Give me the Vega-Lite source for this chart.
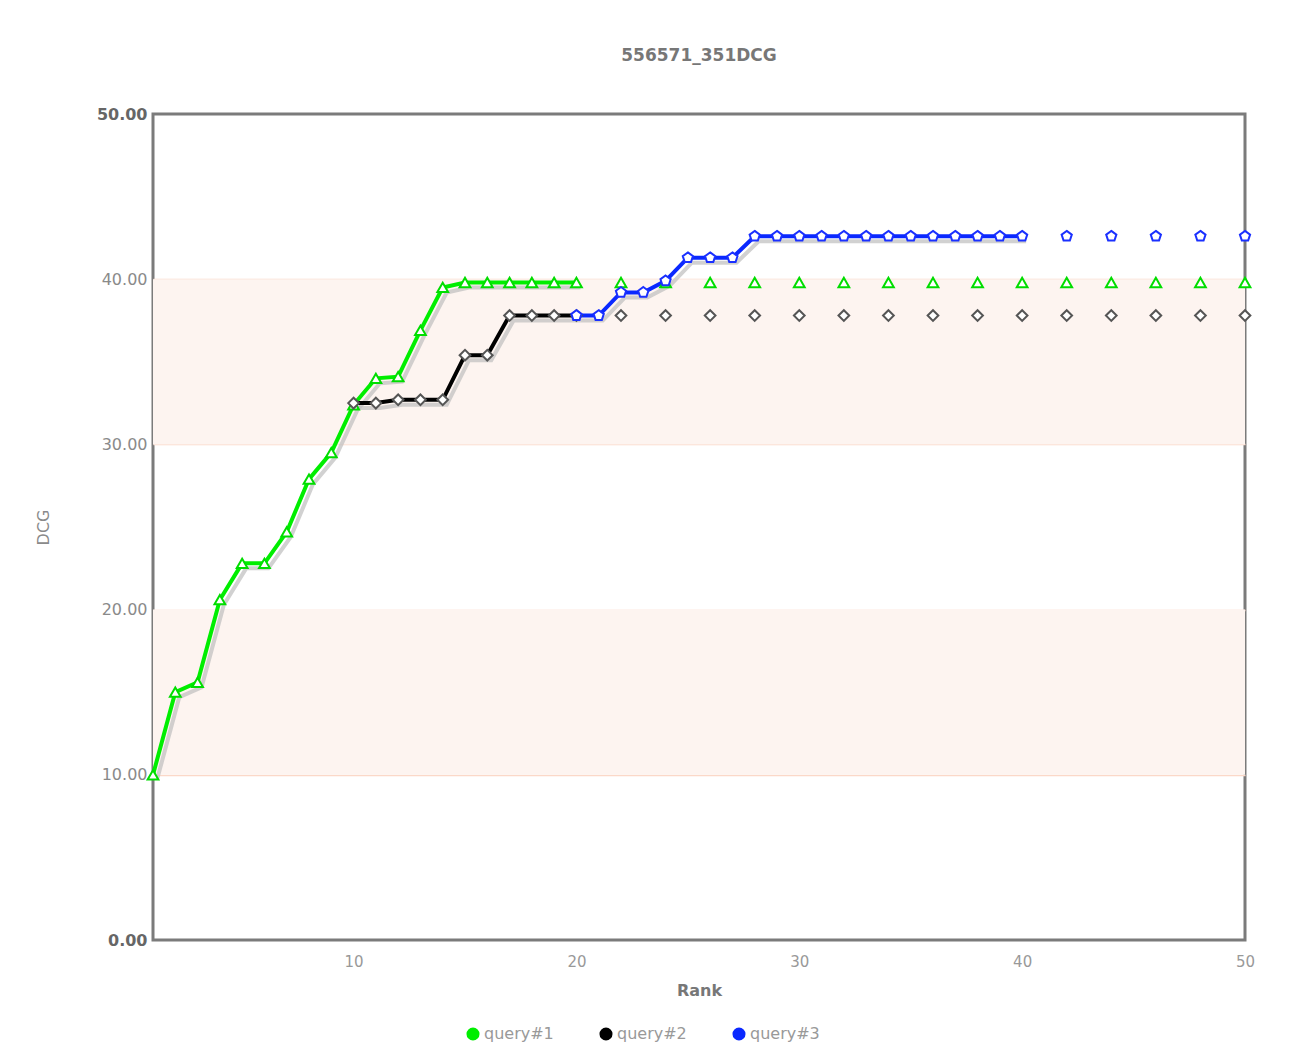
{
  "$schema": "https://vega.github.io/schema/vega-lite/v6.json",
  "autosize": {"type": "none"},
  "width": 1092,
  "height": 826,
  "padding": {"left": 153, "top": 114, "right": 44, "bottom": 124},
  "background": "white",
  "config": {
    "font": "DejaVu Sans",
    "view": {"stroke": "#7b7b7b", "strokeWidth": 3}
  },
  "title": {
    "text": "556571_351DCG",
    "fontSize": 17,
    "fontWeight": "bold",
    "color": "#777777",
    "frame": "group",
    "anchor": "middle",
    "offset": 41
  },
  "resolve": {"legend": {"color": "independent", "shape": "independent", "stroke": "independent"}},
  "datasets": {
    "bands": [{"lo": 10, "hi": 20}, {"lo": 30, "hi": 40}],
    "dcg": [
      {"query": "query#1", "rank": 1, "dcg": 10.0, "kind": "line"},
      {"query": "query#1", "rank": 2, "dcg": 15.0, "kind": "line"},
      {"query": "query#1", "rank": 3, "dcg": 15.6, "kind": "line"},
      {"query": "query#1", "rank": 4, "dcg": 20.6, "kind": "line"},
      {"query": "query#1", "rank": 5, "dcg": 22.8, "kind": "line"},
      {"query": "query#1", "rank": 6, "dcg": 22.8, "kind": "line"},
      {"query": "query#1", "rank": 7, "dcg": 24.7, "kind": "line"},
      {"query": "query#1", "rank": 8, "dcg": 27.9, "kind": "line"},
      {"query": "query#1", "rank": 9, "dcg": 29.5, "kind": "line"},
      {"query": "query#1", "rank": 10, "dcg": 32.4, "kind": "line"},
      {"query": "query#1", "rank": 11, "dcg": 34.0, "kind": "line"},
      {"query": "query#1", "rank": 12, "dcg": 34.1, "kind": "line"},
      {"query": "query#1", "rank": 13, "dcg": 36.9, "kind": "line"},
      {"query": "query#1", "rank": 14, "dcg": 39.5, "kind": "line"},
      {"query": "query#1", "rank": 15, "dcg": 39.8, "kind": "line"},
      {"query": "query#1", "rank": 16, "dcg": 39.8, "kind": "line"},
      {"query": "query#1", "rank": 17, "dcg": 39.8, "kind": "line"},
      {"query": "query#1", "rank": 18, "dcg": 39.8, "kind": "line"},
      {"query": "query#1", "rank": 19, "dcg": 39.8, "kind": "line"},
      {"query": "query#1", "rank": 20, "dcg": 39.8, "kind": "line"},
      {"query": "query#1", "rank": 22, "dcg": 39.8, "kind": "dot"},
      {"query": "query#1", "rank": 24, "dcg": 39.8, "kind": "dot"},
      {"query": "query#1", "rank": 26, "dcg": 39.8, "kind": "dot"},
      {"query": "query#1", "rank": 28, "dcg": 39.8, "kind": "dot"},
      {"query": "query#1", "rank": 30, "dcg": 39.8, "kind": "dot"},
      {"query": "query#1", "rank": 32, "dcg": 39.8, "kind": "dot"},
      {"query": "query#1", "rank": 34, "dcg": 39.8, "kind": "dot"},
      {"query": "query#1", "rank": 36, "dcg": 39.8, "kind": "dot"},
      {"query": "query#1", "rank": 38, "dcg": 39.8, "kind": "dot"},
      {"query": "query#1", "rank": 40, "dcg": 39.8, "kind": "dot"},
      {"query": "query#1", "rank": 42, "dcg": 39.8, "kind": "dot"},
      {"query": "query#1", "rank": 44, "dcg": 39.8, "kind": "dot"},
      {"query": "query#1", "rank": 46, "dcg": 39.8, "kind": "dot"},
      {"query": "query#1", "rank": 48, "dcg": 39.8, "kind": "dot"},
      {"query": "query#1", "rank": 50, "dcg": 39.8, "kind": "dot"},
      {"query": "query#2", "rank": 10, "dcg": 32.5, "kind": "line"},
      {"query": "query#2", "rank": 11, "dcg": 32.5, "kind": "line"},
      {"query": "query#2", "rank": 12, "dcg": 32.7, "kind": "line"},
      {"query": "query#2", "rank": 13, "dcg": 32.7, "kind": "line"},
      {"query": "query#2", "rank": 14, "dcg": 32.7, "kind": "line"},
      {"query": "query#2", "rank": 15, "dcg": 35.4, "kind": "line"},
      {"query": "query#2", "rank": 16, "dcg": 35.4, "kind": "line"},
      {"query": "query#2", "rank": 17, "dcg": 37.8, "kind": "line"},
      {"query": "query#2", "rank": 18, "dcg": 37.8, "kind": "line"},
      {"query": "query#2", "rank": 19, "dcg": 37.8, "kind": "line"},
      {"query": "query#2", "rank": 20, "dcg": 37.8, "kind": "line"},
      {"query": "query#2", "rank": 22, "dcg": 37.8, "kind": "dot"},
      {"query": "query#2", "rank": 24, "dcg": 37.8, "kind": "dot"},
      {"query": "query#2", "rank": 26, "dcg": 37.8, "kind": "dot"},
      {"query": "query#2", "rank": 28, "dcg": 37.8, "kind": "dot"},
      {"query": "query#2", "rank": 30, "dcg": 37.8, "kind": "dot"},
      {"query": "query#2", "rank": 32, "dcg": 37.8, "kind": "dot"},
      {"query": "query#2", "rank": 34, "dcg": 37.8, "kind": "dot"},
      {"query": "query#2", "rank": 36, "dcg": 37.8, "kind": "dot"},
      {"query": "query#2", "rank": 38, "dcg": 37.8, "kind": "dot"},
      {"query": "query#2", "rank": 40, "dcg": 37.8, "kind": "dot"},
      {"query": "query#2", "rank": 42, "dcg": 37.8, "kind": "dot"},
      {"query": "query#2", "rank": 44, "dcg": 37.8, "kind": "dot"},
      {"query": "query#2", "rank": 46, "dcg": 37.8, "kind": "dot"},
      {"query": "query#2", "rank": 48, "dcg": 37.8, "kind": "dot"},
      {"query": "query#2", "rank": 50, "dcg": 37.8, "kind": "dot"},
      {"query": "query#3", "rank": 20, "dcg": 37.8, "kind": "line"},
      {"query": "query#3", "rank": 21, "dcg": 37.8, "kind": "line"},
      {"query": "query#3", "rank": 22, "dcg": 39.2, "kind": "line"},
      {"query": "query#3", "rank": 23, "dcg": 39.2, "kind": "line"},
      {"query": "query#3", "rank": 24, "dcg": 39.9, "kind": "line"},
      {"query": "query#3", "rank": 25, "dcg": 41.3, "kind": "line"},
      {"query": "query#3", "rank": 26, "dcg": 41.3, "kind": "line"},
      {"query": "query#3", "rank": 27, "dcg": 41.3, "kind": "line"},
      {"query": "query#3", "rank": 28, "dcg": 42.6, "kind": "line"},
      {"query": "query#3", "rank": 29, "dcg": 42.6, "kind": "line"},
      {"query": "query#3", "rank": 30, "dcg": 42.6, "kind": "line"},
      {"query": "query#3", "rank": 31, "dcg": 42.6, "kind": "line"},
      {"query": "query#3", "rank": 32, "dcg": 42.6, "kind": "line"},
      {"query": "query#3", "rank": 33, "dcg": 42.6, "kind": "line"},
      {"query": "query#3", "rank": 34, "dcg": 42.6, "kind": "line"},
      {"query": "query#3", "rank": 35, "dcg": 42.6, "kind": "line"},
      {"query": "query#3", "rank": 36, "dcg": 42.6, "kind": "line"},
      {"query": "query#3", "rank": 37, "dcg": 42.6, "kind": "line"},
      {"query": "query#3", "rank": 38, "dcg": 42.6, "kind": "line"},
      {"query": "query#3", "rank": 39, "dcg": 42.6, "kind": "line"},
      {"query": "query#3", "rank": 40, "dcg": 42.6, "kind": "line"},
      {"query": "query#3", "rank": 42, "dcg": 42.6, "kind": "dot"},
      {"query": "query#3", "rank": 44, "dcg": 42.6, "kind": "dot"},
      {"query": "query#3", "rank": 46, "dcg": 42.6, "kind": "dot"},
      {"query": "query#3", "rank": 48, "dcg": 42.6, "kind": "dot"},
      {"query": "query#3", "rank": 50, "dcg": 42.6, "kind": "dot"}
    ]
  },
  "layer": [
    {
      "data": {"name": "bands"},
      "mark": {"type": "rect", "fill": "#fdf4f0"},
      "encoding": {
        "y": {
          "field": "lo", "type": "quantitative",
          "scale": {"domain": [0, 50], "nice": false},
          "axis": {
            "title": "DCG",
            "values": [0, 10, 20, 30, 40, 50],
            "format": ".2f",
            "ticks": false,
            "domain": false,
            "labelPadding": 6,
            "labelFontSize": 16,
            "labelColor": {"condition": {"test": "datum.value == 0 || datum.value == 50", "value": "#666666"}, "value": "#8a8a8a"},
            "labelFontWeight": {"condition": {"test": "datum.value == 0 || datum.value == 50", "value": "bold"}, "value": "normal"},
            "grid": true,
            "gridColor": {"condition": {"test": "datum.value == 0 || datum.value == 50", "value": "transparent"}, "value": "#fbd8c8"},
            "gridWidth": 1.5,
            "titleFontSize": 16,
            "titleFontWeight": "normal",
            "titleColor": "#8a8a8a",
            "titleAngle": -90,
            "titleAlign": "center",
            "titleBaseline": "middle",
            "titleX": -110,
            "titleY": 413
          }
        },
        "y2": {"field": "hi"}
      }
    },
    {
      "data": {"name": "dcg"},
      "transform": [{"filter": "datum.kind == 'line'"}],
      "mark": {"type": "line", "strokeWidth": 4, "color": "#bdbdbd", "opacity": 0.7},
      "encoding": {
        "x": {"field": "rank", "type": "quantitative"},
        "y": {"field": "dcg", "type": "quantitative"},
        "detail": {"field": "query"},
        "xOffset": {"value": 4},
        "yOffset": {"value": 5}
      }
    },
    {
      "data": {"name": "dcg"},
      "transform": [{"filter": "datum.kind == 'line'"}],
      "mark": {"type": "line", "strokeWidth": 4},
      "encoding": {
        "x": {
          "field": "rank", "type": "quantitative",
          "scale": {"domain": [1, 50], "nice": false, "zero": false},
          "axis": {
            "title": "Rank",
            "values": [10, 20, 30, 40, 50],
            "ticks": false,
            "domain": false,
            "grid": false,
            "labelFlush": false,
            "labelPadding": 14,
            "labelFontSize": 15,
            "labelColor": "#999999",
            "labelBaseline": "top",
            "titleFontSize": 16,
            "titleFontWeight": "bold",
            "titleColor": "#777777",
            "titleBaseline": "middle",
            "titleY": 50
          }
        },
        "y": {"field": "dcg", "type": "quantitative"},
        "color": {
          "field": "query", "type": "nominal",
          "scale": {"domain": ["query#1", "query#2", "query#3"], "range": ["#00ee00", "#000000", "#0a28ff"]},
          "legend": {
            "title": null,
            "orient": "none",
            "legendX": 312,
            "legendY": 912,
            "direction": "horizontal",
            "symbolType": "circle",
            "symbolSize": 170,
            "symbolStrokeWidth": 0,
            "labelFontSize": 16,
            "labelColor": "#999999",
            "labelOffset": 3,
            "columnPadding": 44,
            "encode": {"symbols": {"update": {"shape": {"value": "circle"}, "size": {"value": 170}, "fill": {"scale": "color", "field": "value"}, "stroke": {"value": "transparent"}, "strokeWidth": {"value": 0}}}}
          }
        }
      }
    },
    {
      "data": {"name": "dcg"},
      "mark": {"type": "point", "filled": false, "fill": "white", "fillOpacity": 1, "strokeWidth": 2, "size": 115, "opacity": 1},
      "encoding": {
        "x": {"field": "rank", "type": "quantitative"},
        "y": {"field": "dcg", "type": "quantitative"},
        "stroke": {
          "field": "query", "type": "nominal",
          "scale": {"domain": ["query#1", "query#2", "query#3"], "range": ["#00dd00", "#555555", "#1a30ff"]},
          "legend": null
        },
        "shape": {
          "field": "query", "type": "nominal",
          "scale": {"domain": ["query#1", "query#2", "query#3"], "range": ["triangle-up", "diamond", "M0,-1L0.951,-0.309L0.588,0.809L-0.588,0.809L-0.951,-0.309Z"]},
          "legend": null
        }
      }
    }
  ]
}
